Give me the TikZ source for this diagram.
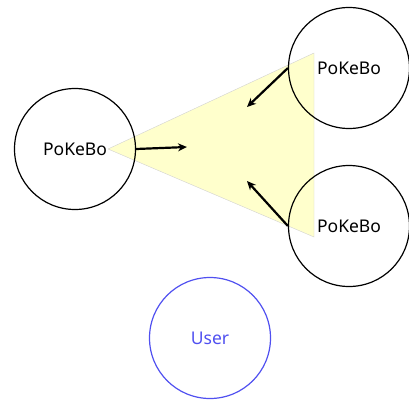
\documentclass[tikz,border=0pt]{standalone}
\usepackage{fontspec}
\setmainfont{Noto Sans}
\usetikzlibrary{arrows.meta}
\tikzset{
  bot/.style={draw, circle, line width=1.2pt, minimum size=121pt, inner sep=0pt, font=\fontsize{17.5}{19}\selectfont},
  user/.style={bot, draw={rgb,255:red,80;green,80;blue,240}, text={rgb,255:red,80;green,80;blue,240}},
  push/.style={-{Stealth[length=9pt,width=8pt]}, line width=2.2pt}
}
\begin{document}
\begin{tikzpicture}[x=1pt,y=-1pt]
\useasboundingbox (0,0) rectangle (409,399);
\fill[fill={rgb,255:red,255;green,255;blue,204}, draw=black!18, line width=0.4pt] (108,149) -- (314,53) -- (314,237) -- cycle;
\node[bot] (left) at (75,149) {PoKeBo};
\node[bot] (top) at (349,68) {PoKeBo};
\node[bot] (bottom) at (349,226) {PoKeBo};
\node[user] (me) at (210,338) {User};
\coordinate (inL) at (187,147);
\coordinate (inT) at (247,107);
\coordinate (inB) at (247,181);
\draw[push] (left.east) -- (inL);
\draw[push] (top.west) -- (inT);
\draw[push] (bottom.west) -- (inB);
\end{tikzpicture}
\end{document}
